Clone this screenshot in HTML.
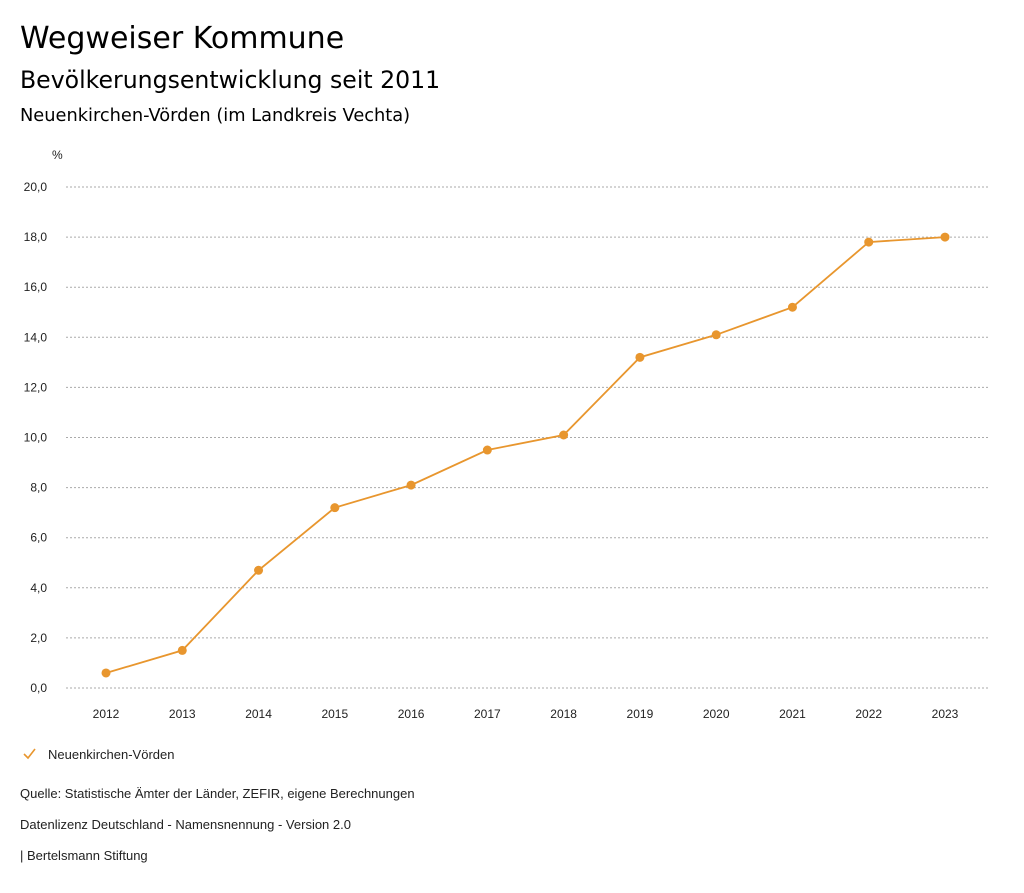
<!DOCTYPE html>
<html><head><meta charset="utf-8"><style>
body{margin:0;background:#fff;width:1024px;height:888px;overflow:hidden;font-family:"Liberation Sans","DejaVu Sans",sans-serif;}
svg text{font-family:"Liberation Sans","DejaVu Sans",sans-serif;}
svg text.h{font-family:"DejaVu Sans",sans-serif;}
</style></head><body>
<svg id="c" width="1024" height="888">
<text class="h" x="20" y="48" font-size="30" fill="#000">Wegweiser Kommune</text>
<text class="h" x="20" y="88" font-size="23.6" fill="#000">Bevölkerungsentwicklung seit 2011</text>
<text class="h" x="20" y="121" font-size="17.8" font-weight="500" fill="#000">Neuenkirchen-Vörden (im Landkreis Vechta)</text>
<text x="52" y="159" font-size="12" fill="#222">%</text>
<g id="grid"></g><g id="xt"></g><g id="series"></g>
<g>
<path d="M24 754 l4 4 l7 -9" stroke="#E8962E" stroke-width="1.6" fill="none"/>
<text x="48" y="759" font-size="13" fill="#222">Neuenkirchen-Vörden</text></g>
<text x="20" y="798" font-size="13" fill="#222">Quelle: Statistische Ämter der Länder, ZEFIR, eigene Berechnungen</text>
<text x="20" y="829" font-size="13" fill="#222">Datenlizenz Deutschland - Namensnennung - Version 2.0</text>
<text x="20" y="860" font-size="13" fill="#222">| Bertelsmann Stiftung</text>
</svg>
<script>
const years=[2012,2013,2014,2015,2016,2017,2018,2019,2020,2021,2022,2023];
const values=[0.6,1.5,4.7,7.2,8.1,9.5,10.1,13.2,14.1,15.2,17.8,18.0];
const yTicks=[0,2,4,6,8,10,12,14,16,18,20];
const NS="http://www.w3.org/2000/svg";
const y=v=>688-v*(501/20);
const x=i=>106+i*(839/11);
function mk(t,a,p){const e=document.createElementNS(NS,t);for(const k in a)e.setAttribute(k,a[k]);p.appendChild(e);return e;}
const g=document.getElementById('grid');
yTicks.forEach(v=>{
 const l=mk('line',{x1:66,x2:990,y1:y(v),y2:y(v),stroke:'#aaa','stroke-dasharray':'2,2','stroke-width':1},g);
 
 
 const t=mk('text',{x:47,y:y(v)+4,'text-anchor':'end','font-size':12,fill:'#222'},g);
 t.textContent=v.toFixed(1).replace('.',',');
 
 
});
const xt=document.getElementById('xt');
years.forEach((yr,i)=>{
 const t=mk('text',{x:x(i),y:718,'text-anchor':'middle','font-size':12,fill:'#222'},xt);
 t.textContent=yr;
 
 
});
const s=document.getElementById('series');
const p=mk('polyline',{points:values.map((v,i)=>x(i)+','+y(v)).join(' '),fill:'none',stroke:'#E8962E','stroke-width':1.8},s);


values.forEach((v,i)=>{
 const c=mk('circle',{cx:x(i),cy:y(v),r:4.5,fill:'#E8962E'},s);
 
 
});
</script>
</body></html>
